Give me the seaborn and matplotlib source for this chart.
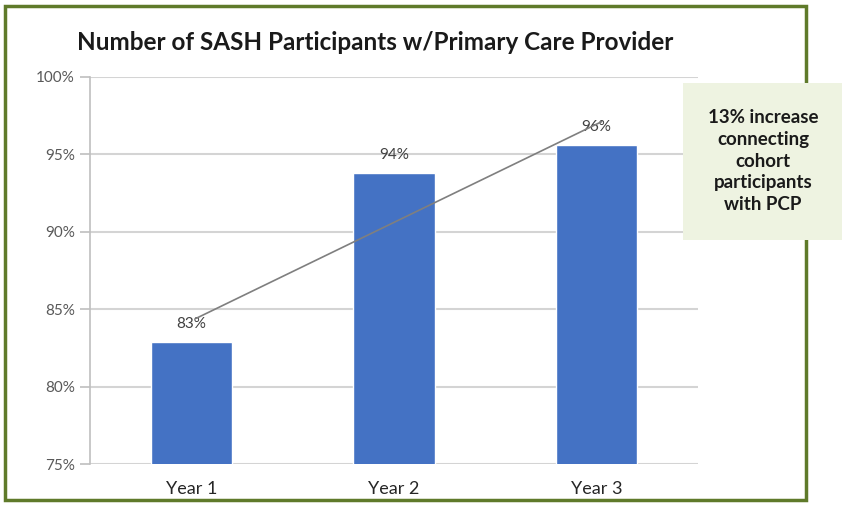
import numpy as np
import pandas as pd
import seaborn as sns
import matplotlib.pyplot as plt
from matplotlib.patches import Rectangle
from matplotlib.ticker import FuncFormatter

years = ['Year 1', 'Year 2', 'Year 3']
share = [82.9, 93.8, 95.6]
labels = ['83%', '94%', '96%']
yticks = [75, 80, 85, 90, 95, 100]

df = pd.DataFrame({'year': years, 'share': share})

sns.set_theme(style='white')
plt.rcParams['font.family'] = ['Lato', 'DejaVu Sans']

fig = plt.figure(figsize=(8.5, 5.05), dpi=100)
ax = fig.add_axes([90 / 850, 1 - 464 / 505, 608 / 850, 387 / 505])

sns.barplot(x='year', y='share', data=df, color='#4472c4', width=0.4,
            saturation=1, ax=ax, zorder=3)

ax.set_xlim(-0.5, 2.5)
ax.set_ylim(75, 100)
ax.set_yticks(yticks)
ax.yaxis.set_major_formatter(FuncFormatter(lambda v, p: f'{v:.0f}%'))
ax.grid(axis='y', color='#d4d4d4', linewidth=1.5, zorder=0)
ax.set_xlabel('')
ax.set_ylabel('')

for s in ['top', 'right', 'bottom']:
    ax.spines[s].set_visible(False)
ax.spines['left'].set_color('#bfbfbf')
ax.spines['left'].set_linewidth(1.2)
ax.tick_params(axis='y', length=7, width=1.2, color='#bfbfbf', colors='#595959',
               labelsize=11, pad=4, left=True)
ax.tick_params(axis='y', which='both', color='#bfbfbf')
ax.tick_params(axis='x', length=0, labelsize=13, labelcolor='#262626', pad=12)

for i, (v, t) in enumerate(zip(share, labels)):
    ax.text(i, v + 0.7, t, ha='center', va='bottom', fontsize=11, color='#404040')

# linear trendline through the bar values
x = np.arange(len(share))
k, b = np.polyfit(x, share, 1)
ax.plot([x[0] + 0.025, x[-1] + 0.025], [b, k * x[-1] + b], color='#7f7f7f',
        linewidth=1.2, zorder=4)

fig.text(375 / 850, 1 - 42 / 505, 'Number of SASH Participants w/Primary Care Provider',
         ha='center', va='center', fontsize=17.5, fontweight='bold', color='#1a1a1a')

fig.patches.append(Rectangle((5 / 850, 5 / 505), 801 / 850, 494 / 505,
                             transform=fig.transFigure, fill=False,
                             edgecolor='#5f7a2a', linewidth=2.5))
fig.patches.append(Rectangle((683 / 850, 1 - 240 / 505), 159 / 850, 157 / 505,
                             transform=fig.transFigure, facecolor='#eef3e1',
                             edgecolor='none', zorder=5))
fig.text(763 / 850, 1 - 161 / 505,
         '13% increase\nconnecting\ncohort\nparticipants\nwith PCP',
         ha='center', va='center', fontsize=13.5, fontweight='bold',
         color='#1a1a1a', linespacing=1.35, zorder=6)

fig.savefig('out.png', dpi=100)
